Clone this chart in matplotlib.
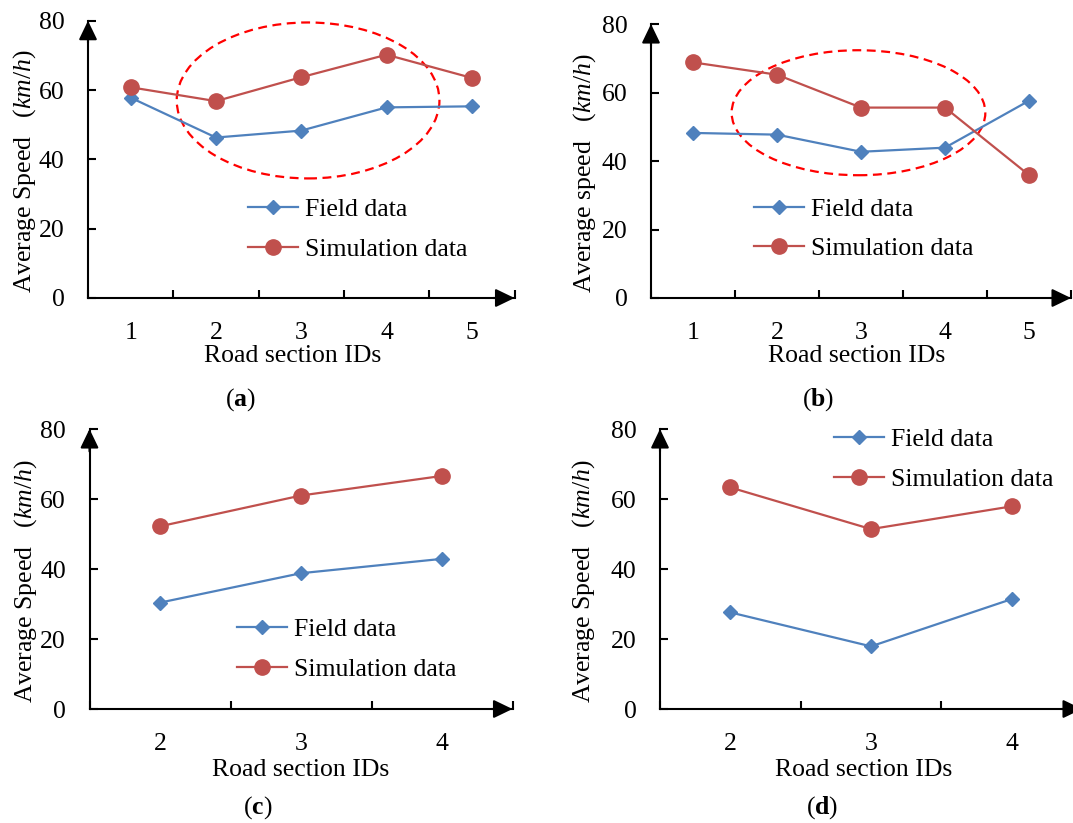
import matplotlib
matplotlib.use("Agg")
import matplotlib.pyplot as plt
from matplotlib.patches import Ellipse

plt.rcParams["font.family"] = ["Liberation Serif", "DejaVu Serif"]
plt.rcParams["mathtext.fontset"] = "custom"
plt.rcParams["mathtext.rm"] = "Liberation Serif"
plt.rcParams["mathtext.it"] = "Liberation Serif:italic"
plt.rcParams["mathtext.bf"] = "Liberation Serif:bold"

# data
ids_ab = [1, 2, 3, 4, 5]
field_a = [57.8, 46.3, 48.3, 55.0, 55.3]
sim_a = [60.8, 56.8, 63.7, 70.2, 63.5]
field_b = [48.2, 47.7, 42.7, 43.9, 57.6]
sim_b = [68.8, 65.2, 55.6, 55.6, 35.9]

ids_cd = [2, 3, 4]
field_c = [30.4, 38.8, 42.9]
sim_c = [52.2, 61.0, 66.6]
field_d = [27.6, 17.9, 31.4]
sim_d = [63.3, 51.4, 57.9]

y_ticks = [0, 20, 40, 60, 80]
labels = ["Field data", "Simulation data"]
panel_names = ["a", "b", "c", "d"]

BLUE = "#4F81BD"
RED = "#C0504D"
FS = 18.5
W, H = 1073, 823

fig = plt.figure(figsize=(W / 100, H / 100), dpi=100)


def fx(px):
    return px / W


def fy(py):
    return 1 - py / H


def panel(rect, ids, field, sim, ylab, ylab_xy, xlab_px, name_px, leg_px, name):
    ax = fig.add_axes(rect)
    ax.plot(ids, field, color=BLUE, lw=1.6, marker="D", ms=7.5, label=labels[0])
    ax.plot(ids, sim, color=RED, lw=1.6, marker="o", ms=11, label=labels[1])
    ax.set_xlim(ids[0] - 0.5, ids[-1] + 0.5)
    ax.set_ylim(0, 80)
    ax.set_yticks(y_ticks)
    ax.set_xticks(ids)
    ax.set_xticks([i - 0.5 for i in ids] + [ids[-1] + 0.5], minor=True)
    ax.tick_params(axis="x", which="major", length=0, pad=17, labelsize=FS)
    ax.tick_params(axis="x", which="minor", direction="in", length=6, width=1.5)
    ax.tick_params(axis="y", direction="in", length=6, width=1.5, pad=17, labelsize=FS)
    for s in ["top", "right"]:
        ax.spines[s].set_visible(False)
    for s in ["left", "bottom"]:
        ax.spines[s].set_linewidth(1.5)
    arrow = dict(arrowstyle="-|>,head_length=0.58,head_width=0.28", color="black",
                 lw=1.5, mutation_scale=20, shrinkA=0, shrinkB=0)
    ax.annotate("", xy=(1, 0), xytext=(0.95, 0), xycoords="axes fraction",
                arrowprops=arrow, annotation_clip=False)
    ax.annotate("", xy=(0, 1), xytext=(0, 0.92), xycoords="axes fraction",
                arrowprops=arrow, annotation_clip=False)
    # y label anchored at the bottom of its rotated box
    ax.text(ylab_xy[0], ylab_xy[1], ylab, rotation=90, transform=ax.transAxes,
            ha="center", va="bottom", fontsize=FS)
    fig.text(fx(xlab_px[0]), fy(xlab_px[1]), "Road section IDs", ha="center",
             va="center", fontsize=FS)
    fig.text(fx(name_px[0]), fy(name_px[1]), "($\\mathbf{" + name + "}$)",
             ha="center", va="center", fontsize=FS)
    ax.legend(loc="center left", bbox_to_anchor=(fx(leg_px[0]), fy(leg_px[1])),
              bbox_transform=fig.transFigure, frameon=False, fontsize=FS,
              handlelength=1.95, handletextpad=0.25, borderpad=0,
              borderaxespad=0, labelspacing=0.65)
    return ax


lab_upper = "Average Speed   ($\\mathit{km/h}$)"
lab_lower = "Average speed   ($\\mathit{km/h}$)"

ax_a = panel([fx(88), fy(298), fx(426.5), 0.3369], ids_ab, field_a, sim_a,
             lab_upper, (-0.148, 0.018), (293, 356), (240, 400), (248, 229.5),
             panel_names[0])
ax_b = panel([fx(651), fy(298), fx(420), 0.3329], ids_ab, field_b, sim_b,
             lab_lower, (-0.157, 0.018), (857, 356), (818, 400), (754, 229),
             panel_names[1])
ax_c = panel([fx(89.5), fy(709), fx(423), 0.3402], ids_cd, field_c, sim_c,
             lab_upper, (-0.152, 0.021), (301, 770), (258, 808), (237, 649.5),
             panel_names[2])
ax_d = panel([fx(660), fy(709), fx(422), 0.3402], ids_cd, field_d, sim_d,
             lab_upper, (-0.180, 0.021), (864, 770), (822, 808), (834, 459.5),
             panel_names[3])

# dashed ellipses marking the congested sections
ax_a.add_patch(Ellipse((3.08, 57.0), 3.08, 45.0, fill=False, ec="#FF0000",
                       lw=1.6, ls=(0, (4, 2.5))))
ax_b.add_patch(Ellipse((2.97, 54.1), 3.02, 36.5, fill=False, ec="#FF0000",
                       lw=1.6, ls=(0, (4, 2.5))))

fig.savefig("out.png", dpi=100)
